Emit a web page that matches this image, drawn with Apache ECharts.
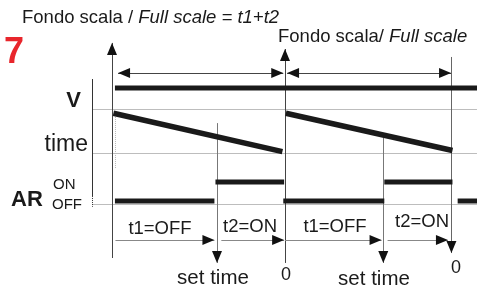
<!DOCTYPE html>
<html><head><meta charset="utf-8">
<script src="https://cdn.jsdelivr.net/npm/echarts@6/dist/echarts.min.js"></script>
<style>html,body{margin:0;padding:0;background:#fff}#c{width:477px;height:288px}</style>
</head><body><div id="c"></div>
<script>
// ---------------- DATA (time in diagram units, levels in signal units) ----------------
const cycleBounds = [0, 10.0, 19.62];          // "Fondo scala / Full scale" boundaries
const setTimes = [6.07, 15.68];                // "set time" instants
const vLevel = 5.95;                           // V signal level
const vSpan = [0.17, 21.2];
const rampStart = [0.08, 10.05];               // time ramp start per cycle
const rampEnd = [9.85, 19.68];
const rampHigh = [4.62, 4.62];
const rampLow = [2.6, 2.66];
const arState = ['OFF', 'ON', 'OFF', 'ON', 'OFF'];
const arFrom = [0.17, 5.98, 9.9, 15.74, 19.98];
const arTo = [5.92, 9.95, 15.74, 19.68, 21.2];
const arLevel = { OFF: 0, ON: 1 };
const phaseLabels = ['t1=OFF', 't2=ON', 't1=OFF', 't2=ON'];
const zeroLabel = '0';
const setTimeLabel = 'set time';

// ---------------- LAYOUT (pixels / positions, not data) ----------------
const L = { x0: 112, pxT: 17.3, y0: 201, pxL: 19, W: 477, H: 288 };
const guideLevels = [4.84, 2.53, -0.16];
const topArrowLevel = 6.74, bottomArrowLevel = -2.05;
const headW = 10, headH = 12;

const chart = echarts.init(document.getElementById('c'), null, { renderer: 'canvas' });

function seg(a, b, color, width, type) {
  return [{ coord: a, symbol: 'none', lineStyle: { color: color, width: width || 1, type: type || 'solid' } },
          { coord: b, symbol: 'none' }];
}
// arrow head at tip b, coming from a
function head(a, b, color) {
  const dx = (b[0] - a[0]) * L.pxT, dy = -(b[1] - a[1]) * L.pxL;
  const n = Math.hypot(dx, dy) || 1, ux = dx / n, uy = dy / n;
  const c = [b[0] - ux * (headH / 2) / L.pxT, b[1] + uy * (headH / 2) / L.pxL];
  const s = [b[0] - ux * (headH / 2 + 1) / L.pxT, b[1] + uy * (headH / 2 + 1) / L.pxL];
  return [{ coord: s, symbol: 'none', lineStyle: { color: color, width: 1 } },
          { coord: c, symbol: 'triangle', symbolSize: [headW, headH], itemStyle: { color: color } }];
}
function arrow(a, b, shaft, hc, both) {
  const out = [seg(a, b, shaft, 1), head(a, b, hc)];
  if (both) out.push(head(b, a, hc));
  return out;
}

const ml = [];
const xLeft = -(L.x0 - 92) / L.pxT;
const xMax = (L.W - L.x0) / L.pxT;
// guide (grid) lines
guideLevels.forEach(g => ml.push(seg([xLeft, g], [xMax - 0.001, g], '#bdbdbd', 1)));
// left axis line
ml.push(seg([xLeft, 6.42], [xLeft, 0.26], '#333', 1));
ml.push(seg([xLeft, 0.26], [xLeft, -0.3], '#333', 1, 'dotted'));
// dotted helper line at start
ml.push(seg([0.2, 4.63], [0.2, 1.74], '#bbb', 1, 'dotted'));
// cycle boundary verticals
ml.push(...arrow([cycleBounds[0], -3.0], [cycleBounds[0], 8.32], '#444', '#111'));
ml.push(...arrow([cycleBounds[1], -3.26], [cycleBounds[1], 8.0], '#444', '#111'));
ml.push(...arrow([cycleBounds[2], 7.58], [cycleBounds[2], -2.74], '#666', '#111'));
// set time verticals
ml.push(...arrow([setTimes[0], 4.1], [setTimes[0], -3.26], '#777', '#111'));
ml.push(...arrow([setTimes[1], 3.32], [setTimes[1], -3.26], '#777', '#111'));
// top full-scale arrows
ml.push(...arrow([cycleBounds[0] + 0.35, topArrowLevel], [cycleBounds[1] - 0.1, topArrowLevel], '#444', '#111', true));
ml.push(...arrow([cycleBounds[1] + 0.12, topArrowLevel], [cycleBounds[2] - 0.02, topArrowLevel], '#444', '#111', true));
// bottom phase arrows
const phaseFrom = [0.2, setTimes[0] + 0.25, cycleBounds[1], setTimes[1] + 0.25];
const phaseTo = [setTimes[0] - 0.15, cycleBounds[1] - 0.05, setTimes[1] - 0.1, cycleBounds[2] - 0.2];
phaseFrom.forEach((f, i) => ml.push(...arrow([f, bottomArrowLevel], [phaseTo[i], bottomArrowLevel], '#888', '#111')));

const thick = { color: '#1a1a1a', width: 5, cap: 'butt' };
const series = [];
series.push({
  type: 'line', data: [[vSpan[0], vLevel], [vSpan[1], vLevel]], symbol: 'none', lineStyle: thick,
  silent: true, z: 3,
  markLine: { silent: true, symbol: ['none', 'none'], label: { show: false }, emphasis: { disabled: true }, data: ml, z: 2 }
});
rampStart.forEach((s, i) => series.push({
  type: 'line', data: [[s, rampHigh[i]], [rampEnd[i], rampLow[i]]], symbol: 'none', lineStyle: Object.assign({}, thick, { width: 5.5 }), silent: true, z: 3
}));
arState.forEach((st, i) => series.push({
  type: 'line', data: [[arFrom[i], arLevel[st]], [arTo[i], arLevel[st]]], symbol: 'none', lineStyle: thick, silent: true, z: 3
}));

const F = '"Liberation Sans", Arial, sans-serif';
function txt(x, y, text, size, opts) {
  opts = opts || {};
  return { type: 'text', x: x, y: y, silent: true, z: 10, style: Object.assign({
    text: text, fill: '#1a1a1a', font: (opts.weight || 'normal') + ' ' + size + 'px ' + F,
    align: opts.align || 'left', verticalAlign: 'middle' }, opts.style || {}) };
}
const phaseCenters = [160, 250, 335, 422], phaseY = [229, 227, 227, 222];
const graphic = [
  { type: 'text', x: 22, y: 18, silent: true, style: { text: '{n|Fondo scala / }{i|Full scale = t1+t2}', verticalAlign: 'middle',
    rich: { n: { font: '18.5px ' + F, fill: '#1a1a1a' }, i: { font: 'italic 18.5px ' + F, fill: '#1a1a1a' } } } },
  { type: 'text', x: 278, y: 37, silent: true, style: { text: '{n|Fondo scala/ }{i|Full scale}', verticalAlign: 'middle',
    rich: { n: { font: '18.5px ' + F, fill: '#1a1a1a' }, i: { font: 'italic 18.5px ' + F, fill: '#1a1a1a' } } } },
  txt(4, 53, '7', 36, { weight: 'bold', style: { fill: '#e8262c' } }),
  txt(81, 101, 'V', 22, { weight: 'bold', align: 'right' }),
  txt(88, 145, 'time', 23, { align: 'right' }),
  txt(11, 200, 'AR', 22, { weight: 'bold' }),
  txt(53, 185, 'ON', 15),
  txt(52, 205, 'OFF', 15)
];
phaseLabels.forEach((p, i) => graphic.push(txt(phaseCenters[i], phaseY[i], p, 18.5, { align: 'center' })));
graphic.push(txt(213, 278, setTimeLabel, 20.5, { align: 'center' }));
graphic.push(txt(374, 279, setTimeLabel, 20.5, { align: 'center' }));
graphic.push(txt(286, 275, zeroLabel, 18, { align: 'center' }));
graphic.push(txt(456, 268, zeroLabel, 18, { align: 'center' }));

chart.setOption({
  animation: false,
  backgroundColor: '#fff',
  grid: { left: 0, right: 0, top: 0, bottom: 0 },
  xAxis: { type: 'value', min: -L.x0 / L.pxT, max: xMax, show: false },
  yAxis: { type: 'value', min: (L.y0 - L.H) / L.pxL, max: L.y0 / L.pxL, show: false },
  series: series,
  graphic: graphic
});
</script></body></html>
